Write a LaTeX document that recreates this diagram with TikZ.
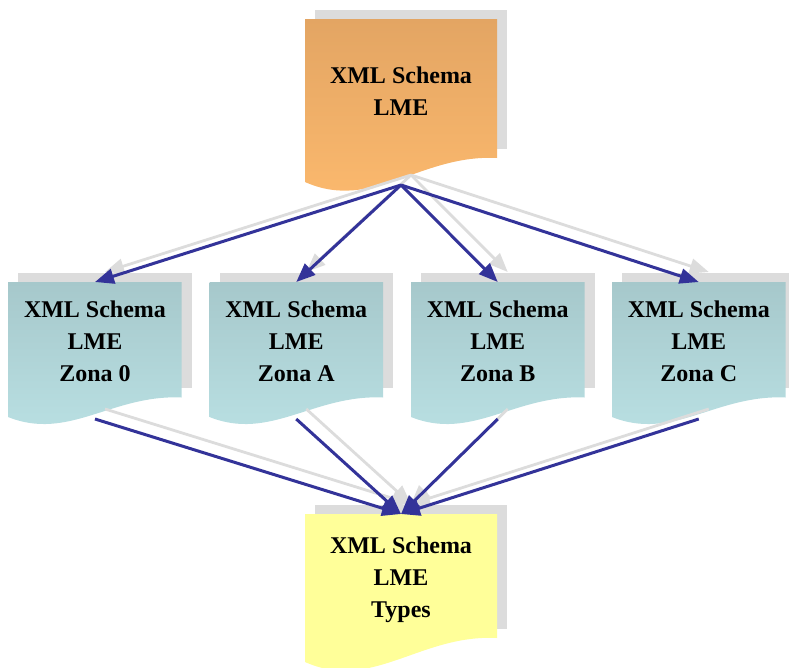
\documentclass[tikz,border=0pt]{standalone}
\usepackage{fontspec}
\setmainfont{Liberation Serif}
\usetikzlibrary{arrows.meta}
\definecolor{shadowgray}{RGB}{220,220,220}
\definecolor{edgeblue}{RGB}{51,51,153}
\definecolor{orangetop}{RGB}{227,165,99}
\definecolor{orangebot}{RGB}{253,186,110}
\definecolor{tealtop}{RGB}{166,200,203}
\definecolor{tealbot}{RGB}{186,225,228}
\definecolor{docyellow}{RGB}{255,255,153}
% #1 x, #2 y, #3 width, #4 left height, #5 right drop, #6 fill options
\newcommand{\mydocshape}[6]{%
  \fill[shadowgray] (#1+10,#2-9.5) rectangle (#1+#3+10,#2+#4-#5-9.5);
  \path[#6] (#1,#2) -- (#1+#3,#2) -- (#1+#3,#2+#4-#5)
    .. controls (#1+0.6*#3,#2+#4-#5-4*#5/24) and (#1+0.35*#3,#2+#4+30*#5/24) .. (#1,#2+#4) -- cycle;
}
\begin{document}
\begin{tikzpicture}[x=1pt,y=-1pt,
  lbl/.style={inner sep=0pt,align=center,font=\bfseries\fontsize{24}{32}\selectfont},
  edge/.style={draw=edgeblue,line width=3pt,-{Triangle[length=19pt,width=15pt]}},
  sedge/.style={draw=shadowgray,line width=2.8pt,-{Triangle[length=19pt,width=15pt]}}]
\useasboundingbox (0,0) rectangle (789,667);
% documents
\mydocshape{305}{19}{192}{163}{24}{top color=orangetop,bottom color=orangebot}
\mydocshape{8}{282}{173.5}{135}{19.5}{top color=tealtop,bottom color=tealbot}
\mydocshape{209.5}{282}{173.5}{135}{19.5}{top color=tealtop,bottom color=tealbot}
\mydocshape{411}{282}{173.5}{135}{19.5}{top color=tealtop,bottom color=tealbot}
\mydocshape{612}{282}{173.5}{135}{19.5}{top color=tealtop,bottom color=tealbot}
\mydocshape{305}{514}{192}{148}{24}{fill=docyellow}
% labels
\node[lbl] (lme) at (401,90.8) {XML Schema\\LME};
\node[lbl] (z0) at (95,340.8) {XML Schema\\LME\\Zona 0};
\node[lbl] (za) at (296.25,340.8) {XML Schema\\LME\\Zona A};
\node[lbl] (zb) at (497.75,340.8) {XML Schema\\LME\\Zona B};
\node[lbl] (zc) at (698.75,340.8) {XML Schema\\LME\\Zona C};
\node[lbl] (ty) at (401,579.4) {XML Schema\\LME\\Types};
% connection points
\coordinate (lme-s) at (401,185);
\coordinate (z0-n) at (95,282);
\coordinate (za-n) at (296.25,282);
\coordinate (zb-n) at (497.75,282);
\coordinate (zc-n) at (698.75,282);
\coordinate (z0-s) at (95,419);
\coordinate (za-s) at (296.25,419);
\coordinate (zb-s) at (497.75,419);
\coordinate (zc-s) at (698.75,419);
\coordinate (ty-n) at (401,514);
% shadow connectors
\foreach \a/\b in {lme-s/z0-n,lme-s/za-n,lme-s/zb-n,lme-s/zc-n,z0-s/ty-n,za-s/ty-n,zb-s/ty-n,zc-s/ty-n}
  \draw[sedge] ([shift={(10,-10)}]\a) -- ([shift={(10,-10)}]\b);
% connectors
\foreach \a/\b in {lme-s/z0-n,lme-s/za-n,lme-s/zb-n,lme-s/zc-n,z0-s/ty-n,za-s/ty-n,zb-s/ty-n,zc-s/ty-n}
  \draw[edge] (\a) -- (\b);
\end{tikzpicture}
\end{document}
